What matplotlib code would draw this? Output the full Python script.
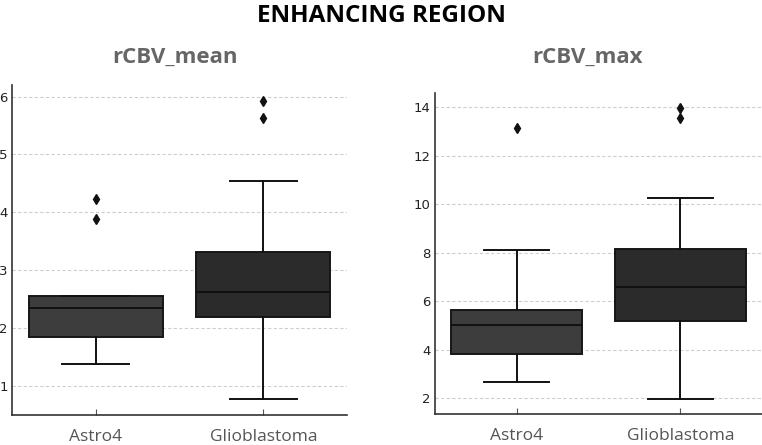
import matplotlib
matplotlib.use("Agg")
import matplotlib.pyplot as plt

groups = ["Astro4", "Glioblastoma"]

# rCBV_mean box stats
mean_q1 = [1.85, 2.20]
mean_med = [2.35, 2.62]
mean_q3 = [2.56, 3.31]
mean_lo = [1.38, 0.77]
mean_hi = [2.56, 4.55]
mean_out = [[3.88, 4.23], [5.63, 5.93]]

# rCBV_max box stats
max_q1 = [3.81, 5.19]
max_med = [5.02, 6.59]
max_q3 = [5.63, 8.17]
max_lo = [2.68, 1.97]
max_hi = [8.10, 10.26]
max_out = [[13.14], [13.53, 13.98]]

box_colors = ["#3d3d3d", "#2b2b2b"]


def make_stats(q1, med, q3, lo, hi, out):
    stats = []
    for i, name in enumerate(groups):
        stats.append(dict(label=name, q1=q1[i], med=med[i], q3=q3[i],
                          whislo=lo[i], whishi=hi[i], fliers=out[i]))
    return stats


def draw(ax, stats, ylim, yticks):
    res = ax.bxp(stats, positions=[0, 1], widths=0.8, capwidths=0.4,
                 patch_artist=True, showfliers=True,
                 boxprops=dict(edgecolor="#161616", linewidth=1.4),
                 whiskerprops=dict(color="#111111", linewidth=1.4),
                 capprops=dict(color="#111111", linewidth=1.4),
                 medianprops=dict(color="#111111", linewidth=1.4),
                 flierprops=dict(marker="d", markerfacecolor="#111111",
                                 markeredgecolor="#111111", markersize=5))
    for patch, c in zip(res["boxes"], box_colors):
        patch.set_facecolor(c)
    ax.set_xlim(-0.5, 1.5)
    ax.set_ylim(*ylim)
    ax.set_yticks(yticks)
    ax.set_xticks([0, 1], groups, fontfamily="Open Sans", fontsize=12.5,
                  color="#555555")
    ax.set_axisbelow(True)
    ax.yaxis.grid(True, linestyle=(0, (3, 2)), color="#cfcfcf", linewidth=0.8)
    for s in ["top", "right"]:
        ax.spines[s].set_visible(False)
    for s in ["left", "bottom"]:
        ax.spines[s].set_color("#333333")
        ax.spines[s].set_linewidth(1.2)
    ax.tick_params(axis="y", length=0, pad=3, labelsize=9.5, labelcolor="#222222")
    ax.tick_params(axis="x", direction="in", length=4, color="#555555", pad=10)


fig = plt.figure(figsize=(7.62, 4.45), dpi=100)
ax1 = fig.add_axes([12 / 762, 1 - 415 / 445, 335 / 762, 330 / 445])
ax2 = fig.add_axes([435 / 762, 1 - 414 / 445, 327 / 762, 321 / 445])

draw(ax1, make_stats(mean_q1, mean_med, mean_q3, mean_lo, mean_hi, mean_out),
     (0.5, 6.2), [1, 2, 3, 4, 5, 6])
draw(ax2, make_stats(max_q1, max_med, max_q3, max_lo, max_hi, max_out),
     (1.35, 14.58), [2, 4, 6, 8, 10, 12, 14])

fig.text(175 / 762, 1 - 57 / 445, "rCBV_mean", ha="center", va="center",
         fontsize=16, fontweight="bold", color="#666666", family="Open Sans")
fig.text(588 / 762, 1 - 57 / 445, "rCBV_max", ha="center", va="center",
         fontsize=16, fontweight="bold", color="#666666", family="Open Sans")

fig.text(0.5, 1 - 16 / 445, "ENHANCING REGION", ha="center", va="center",
         fontsize=17.5, fontweight="bold", color="#000000", family="Open Sans")

fig.savefig("out.png", dpi=100)
